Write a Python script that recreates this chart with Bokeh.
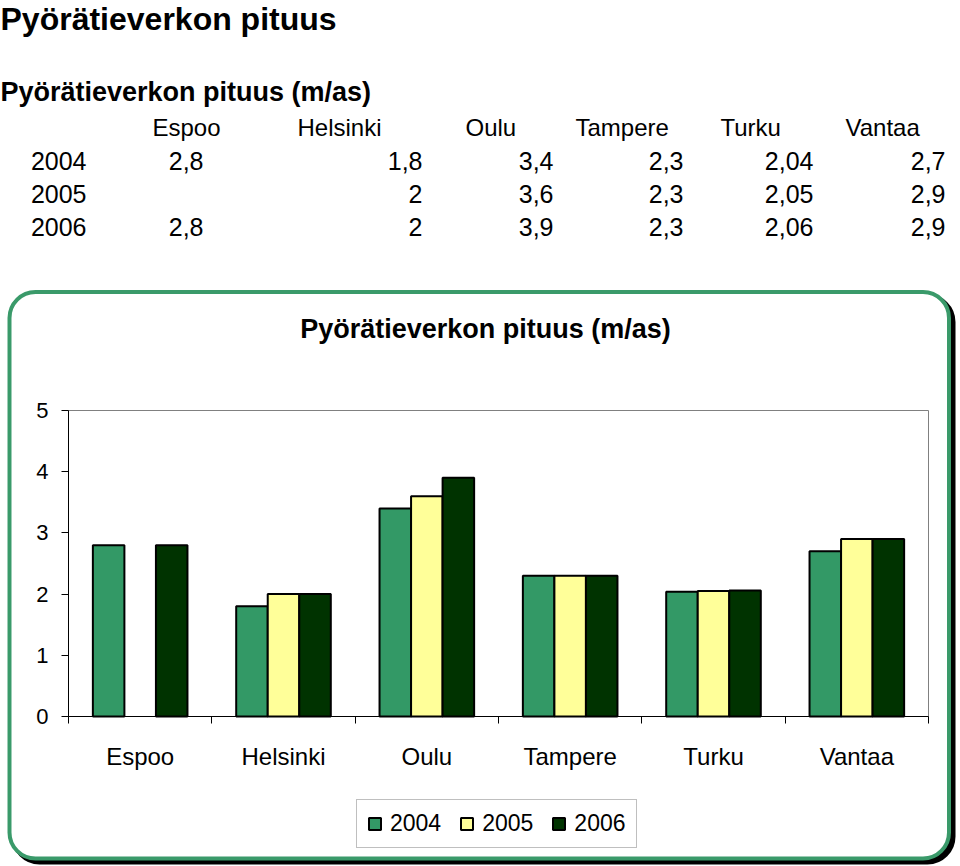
import math
from bokeh.plotting import figure
from bokeh.models import (ColumnDataSource, Range1d, LinearAxis, FixedTicker,
                          BoxAnnotation, Legend, LegendItem)
from bokeh.core.properties import value
from bokeh.transform import dodge
from bokeh.embed import file_html
from bokeh.resources import INLINE

# ---------------- data ----------------
page_title = "Pyörätieverkon pituus"
table_title = "Pyörätieverkon pituus (m/as)"
chart_title = "Pyörätieverkon pituus (m/as)"
cities = ["Espoo", "Helsinki", "Oulu", "Tampere", "Turku", "Vantaa"]
years = ["2004", "2005", "2006"]
v2004 = [2.8, 1.8, 3.4, 2.3, 2.04, 2.7]
v2005 = [None, 2, 3.6, 2.3, 2.05, 2.9]
v2006 = [2.8, 2, 3.9, 2.3, 2.06, 2.9]
y_ticks = [0, 1, 2, 3, 4, 5]

# ---------------- styles / layout ----------------
colors = ["#339966", "#FFFF99", "#003300"]
FONT_NAME = "Liberation Sans"
FONT = value(FONT_NAME)
W, H = 960, 866
PL, PR, PT, PB = 68, 928, 410, 716          # plot-area pixel edges
YMAX = y_ticks[-1]
SX = (PR - PL) / len(cities)
SY = (PB - PT) / YMAX
TEXT_SHIFT = -9                              # baseline correction (px)


def X(px):
    return (px - PL) / SX


def Y(py):
    return (PB - py) / SY


p = figure(width=W, height=H, x_range=Range1d(X(0), X(W)), y_range=Range1d(Y(H), Y(0)),
           x_axis_type=None, y_axis_type=None, toolbar_location=None,
           output_backend="svg", min_border=0, outline_line_color=None,
           background_fill_color="white", border_fill_color="white")

# rounded chart border with shadow
shadow = BoxAnnotation(left=X(13), right=X(953), top=Y(295.5), bottom=Y(862),
                       fill_color="black", fill_alpha=1, line_color="black",
                       line_alpha=1, line_width=4, border_radius=26, level="underlay")
chart_box = BoxAnnotation(left=X(9), right=X(948.5), top=Y(291.5), bottom=Y(858),
                          fill_color="white", fill_alpha=1, line_color="#3a9a6a",
                          line_alpha=1, line_width=4, border_radius=26, level="underlay")
plot_area = BoxAnnotation(left=0, right=len(cities), bottom=0, top=YMAX,
                          fill_alpha=0, line_color="#808080", line_alpha=1,
                          line_width=1, level="underlay")
p.add_layout(shadow)
p.add_layout(chart_box)
p.add_layout(plot_area)


def nan(v):
    return float("nan") if v is None else float(v)


series = [v2004, v2005, v2006]
src = ColumnDataSource(dict(
    xc=[i + 0.5 for i in range(len(cities))],
    y2004=[nan(v) for v in v2004],
    y2005=[nan(v) for v in v2005],
    y2006=[nan(v) for v in v2006],
))

BW = 0.22
offsets = [-BW, 0.0, BW]
items = []
for yr, col, off in zip(years, colors, offsets):
    r = p.vbar(x=dodge("xc", off), top="y" + yr, bottom=0, width=BW, source=src,
               fill_color=col, line_color="black", line_width=2)
    items.append(LegendItem(label=yr, renderers=[r]))

# axes
yaxis = LinearAxis(fixed_location=0, ticker=FixedTicker(ticks=y_ticks), bounds=(0, YMAX),
                   major_tick_out=7, major_tick_in=0, minor_tick_line_color=None,
                   major_label_standoff=13, major_label_text_font=FONT_NAME,
                   major_label_text_font_size="22px", major_label_text_color="black",
                   axis_line_color="black", major_tick_line_color="black")
p.add_layout(yaxis, "left")

bounds_ticks = list(range(len(cities) + 1))
xtick_axis = LinearAxis(fixed_location=0, ticker=FixedTicker(ticks=bounds_ticks),
                        bounds=(0, len(cities)), major_tick_out=7, major_tick_in=0,
                        minor_tick_line_color=None, axis_line_color="black",
                        major_tick_line_color="black",
                        major_label_overrides={t: "" for t in bounds_ticks})
p.add_layout(xtick_axis, "below")

centers = [i + 0.5 for i in range(len(cities))]
xlab_axis = LinearAxis(fixed_location=0, ticker=FixedTicker(ticks=centers),
                       bounds=(0, len(cities)), axis_line_color=None,
                       major_tick_line_color=None, major_tick_out=0, major_tick_in=0,
                       minor_tick_line_color=None, major_label_standoff=26,
                       major_label_overrides={c: n for c, n in zip(centers, cities)},
                       major_label_text_font=FONT_NAME, major_label_text_font_size="24px",
                       major_label_text_color="black")
p.add_layout(xlab_axis, "below")


def txt(xs, ys, texts, align="left", size="24px", style="normal"):
    p.text(x=[X(v) for v in xs], y=[Y(v + TEXT_SHIFT) for v in ys], text=texts,
           text_align=align, text_baseline="alphabetic", text_font=FONT,
           text_font_size=size, text_font_style=style, text_color="black")


# chart title
txt([485], [337], [chart_title], align="center", size="27px", style="bold")

# page header and table
txt([0], [27], [page_title], size="32px", style="bold")
txt([0], [100], [table_title], size="27px", style="bold")
head_left = [152, 297, 465, 575, 720, 845]
val_right = [203, 422, 553, 683, 813, 945]
row_base = [169, 202, 235]
txt(head_left, [136] * len(cities), cities, size="24px")
txt([86] * len(years), row_base, years, align="right", size="25px")


def fmt(v):
    return "" if v is None else f"{v:g}".replace(".", ",")


for yb, vals in zip(row_base, series):
    txt(val_right, [yb] * len(vals), [fmt(v) for v in vals], align="right", size="25px")

legend = Legend(items=items, location=(356, H - 848), orientation="horizontal",
                border_line_color="#808080", border_line_width=1,
                background_fill_color="white", background_fill_alpha=1,
                padding=10, spacing=18, label_standoff=8, glyph_width=15,
                glyph_height=15, margin=0, label_text_font=FONT_NAME,
                label_text_font_size="23px", label_text_color="black")
p.add_layout(legend)

open("out.html", "w").write(file_html(p, INLINE))
